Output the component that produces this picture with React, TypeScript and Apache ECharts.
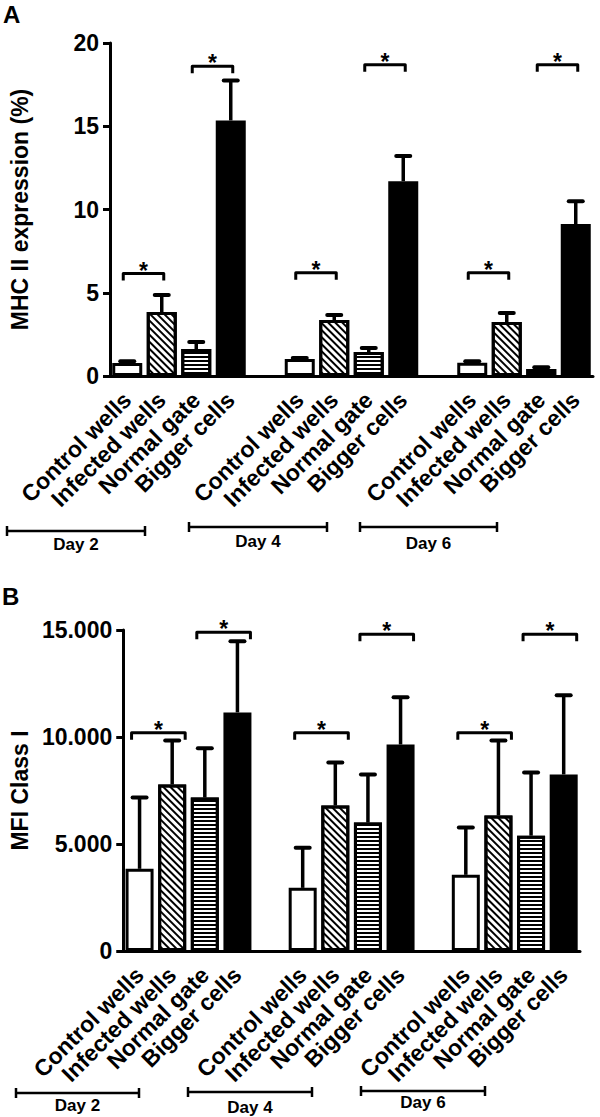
import React, { useEffect, useRef } from 'react';
import * as echarts from 'echarts';

const days = ['Day 2', 'Day 4', 'Day 6'];
const groups = ['Control wells', 'Infected wells', 'Normal gate', 'Bigger cells'];

// Panel A: MHC II expression (%)
const mhcControl = [0.78, 1.02, 0.8];
const mhcInfected = [3.84, 3.36, 3.24];
const mhcNormal = [1.62, 1.44, 0.42];
const mhcBigger = [15.35, 11.7, 9.13];
const mhcControlErr = [0.1, 0.06, 0.08];
const mhcInfectedErr = [1.02, 0.3, 0.54];
const mhcNormalErr = [0.42, 0.24, 0.1];
const mhcBiggerErr = [2.4, 1.52, 1.37];
const mhcBracketLow = [6.15, 6.2, 6.2];
const mhcBracketHigh = [18.6, 18.7, 18.7];

// Panel B: MFI Class I
const mfiControl = [3840, 2950, 3560];
const mfiInfected = [7780, 6800, 6330];
const mfiNormal = [7170, 6000, 5390];
const mfiBigger = [11150, 9650, 8250];
const mfiControlErr = [3330, 1880, 2210];
const mfiInfectedErr = [2060, 2010, 3510];
const mfiNormalErr = [2300, 2250, 2950];
const mfiBiggerErr = [3330, 2210, 3700];
const mfiBracketLow = [10200, 10200, 10200];
const mfiBracketHigh = [14900, 14800, 14800];

const FONT = "'Liberation Sans', Arial, Helvetica, sans-serif";
const LABEL_SIZE = 23;

// slot layout: 4 bars per day, one empty slot between days
const slotLabels: string[] = [];
days.forEach((_, d) => {
  groups.forEach((g) => slotLabels.push(g));
  if (d < days.length - 1) slotLabels.push('');
});
const slotIds = slotLabels.map((_, i) => 's' + i);
const slotOf = (d: number, g: number) => d * 5 + g;

const hatchDecal = {
  symbol: 'rect',
  symbolSize: 1,
  color: '#000',
  dashArrayX: [1, 0],
  dashArrayY: [1.3, 2.2],
  rotation: Math.PI / 4,
};
const hlineDecal = {
  symbol: 'rect',
  symbolSize: 1,
  color: '#000',
  dashArrayX: [1, 0],
  dashArrayY: [1.2, 2],
  rotation: 0,
};
const groupStyles = [
  { color: '#ffffff', decal: undefined as any },
  { color: '#ffffff', decal: hatchDecal },
  { color: '#ffffff', decal: hlineDecal },
  { color: '#000000', decal: undefined as any },
];

function buildPanel(
  p: number,
  means: number[][],
  errs: number[][],
  low: number[],
  high: number[],
  barWidth: number,
  offL: number,
  offR: number
) {
  const series: any[] = [];
  means.forEach((vals, g) => {
    const data = slotLabels.map(() => '-' as any);
    vals.forEach((v, d) => {
      data[slotOf(d, g)] = v;
    });
    series.push({
      type: 'bar',
      xAxisIndex: p,
      yAxisIndex: p,
      barWidth,
      barGap: '-100%',
      data,
      z: 2,
      itemStyle: {
        color: groupStyles[g].color,
        borderColor: '#000',
        borderWidth: 3,
        decal: groupStyles[g].decal,
      },
    });
  });
  const errData: number[][] = [];
  means.forEach((vals, g) => {
    vals.forEach((v, d) => errData.push([slotOf(d, g), v, errs[g][d]]));
  });
  series.push({
    type: 'custom',
    xAxisIndex: p,
    yAxisIndex: p,
    z: 3,
    encode: { x: 0, y: 1 },
    data: errData,
    renderItem: (params: any, api: any) => {
      const xi = api.value(0);
      const m = api.value(1);
      const e = api.value(2);
      const base = api.coord([xi, m]);
      const top = api.coord([xi, m + e]);
      return {
        type: 'group',
        children: [
          {
            type: 'line',
            shape: { x1: base[0], y1: base[1], x2: top[0], y2: top[1] },
            style: { stroke: '#000', lineWidth: 3.5 },
          },
          {
            type: 'line',
            shape: { x1: top[0] - 7, y1: top[1], x2: top[0] + 7, y2: top[1] },
            style: { stroke: '#000', lineWidth: 4, lineCap: 'round' },
          },
        ],
      };
    },
  });
  const brData: number[][] = [];
  days.forEach((_, d) => {
    brData.push([slotOf(d, 0), slotOf(d, 1), low[d]]);
    brData.push([slotOf(d, 2), slotOf(d, 3), high[d]]);
  });
  series.push({
    type: 'custom',
    xAxisIndex: p,
    yAxisIndex: p,
    z: 4,
    encode: { x: [0, 1], y: 2 },
    data: brData,
    renderItem: (params: any, api: any) => {
      const a = api.coord([api.value(0), api.value(2)]);
      const b = api.coord([api.value(1), api.value(2)]);
      const x1 = a[0] + offL;
      const x2 = b[0] + offR;
      const y = a[1];
      return {
        type: 'group',
        children: [
          {
            type: 'polyline',
            shape: { points: [[x1, y + 7], [x1, y], [x2, y], [x2, y + 7]] },
            style: { stroke: '#000', lineWidth: 3, fill: 'none', lineJoin: 'round' },
          },
          {
            type: 'text',
            style: {
              text: '*',
              x: (x1 + x2) / 2,
              y: y - 3,
              align: 'center',
              verticalAlign: 'middle',
              fontSize: 23,
              fontWeight: 'bold',
              fontFamily: FONT,
              fill: '#000',
            },
          },
        ],
      };
    },
  });
  return series;
}

const axisCommonX = (p: number) => ({
  type: 'category',
  gridIndex: p,
  data: slotIds,
  boundaryGap: true,
  axisLine: { lineStyle: { color: '#000', width: 3 } },
  axisTick: {
    alignWithLabel: true,
    length: 6,
    lineStyle: { color: '#000', width: 3 },
    interval: (idx: number) => slotLabels[idx] !== '',
  },
  axisLabel: {
    interval: 0,
    rotate: 45,
    margin: 20,
    color: '#000',
    fontSize: LABEL_SIZE,
    fontWeight: 'bold',
    fontFamily: FONT,
    formatter: (_v: string, idx: number) => slotLabels[idx],
  },
  splitLine: { show: false },
});

const axisCommonY = (p: number, max: number, interval: number, name: string, nameGap: number, fmt: (v: number) => string) => ({
  type: 'value',
  gridIndex: p,
  min: 0,
  max,
  interval,
  name,
  nameLocation: 'middle',
  nameGap,
  nameTextStyle: { color: '#000', fontSize: LABEL_SIZE, fontWeight: 'bold', fontFamily: FONT },
  axisLine: { show: true, lineStyle: { color: '#000', width: 3 } },
  axisTick: { show: true, length: 7, lineStyle: { color: '#000', width: 3 } },
  axisLabel: { color: '#000', fontSize: LABEL_SIZE, fontWeight: 'bold', fontFamily: FONT, margin: 11, formatter: fmt },
  splitLine: { show: false },
});

const dayBracketsA = [
  [7, 145, 531, 544],
  [189, 327, 527, 541],
  [360, 497, 527, 543],
];
const dayBracketsB = [
  [16, 139, 1093, 1105],
  [188, 312, 1092, 1107],
  [361, 485, 1091, 1102],
];

function dayGraphics(list: number[][]) {
  const els: any[] = [];
  list.forEach((b, i) => {
    const [x1, x2, y, ty] = b;
    els.push({ type: 'line', shape: { x1, y1: y, x2, y2: y }, style: { stroke: '#000', lineWidth: 2.5 } });
    els.push({ type: 'line', shape: { x1, y1: y - 5, x2: x1, y2: y + 5 }, style: { stroke: '#000', lineWidth: 2.5 } });
    els.push({ type: 'line', shape: { x1: x2, y1: y - 5, x2, y2: y + 5 }, style: { stroke: '#000', lineWidth: 2.5 } });
    els.push({
      type: 'text',
      x: (x1 + x2) / 2,
      y: ty,
      style: {
        text: days[i],
        align: 'center',
        verticalAlign: 'middle',
        fontSize: 17,
        fontWeight: 'bold',
        fontFamily: FONT,
        fill: '#000',
      },
    });
  });
  return els;
}

export default function App() {
  const ref = useRef<HTMLDivElement>(null);
  useEffect(() => {
    document.body.style.margin = '0';
    if (!ref.current) return;
    const chart = echarts.init(ref.current, undefined, { renderer: 'svg' });
    const seriesA = buildPanel(
      0,
      [mhcControl, mhcInfected, mhcNormal, mhcBigger],
      [mhcControlErr, mhcInfectedErr, mhcNormalErr, mhcBiggerErr],
      mhcBracketLow,
      mhcBracketHigh,
      30,
      -4,
      2
    );
    const seriesB = buildPanel(
      1,
      [mfiControl, mfiInfected, mfiNormal, mfiBigger],
      [mfiControlErr, mfiInfectedErr, mfiNormalErr, mfiBiggerErr],
      mfiBracketLow,
      mfiBracketHigh,
      28,
      -8,
      13
    );
    chart.setOption({
      animation: false,
      backgroundColor: '#fff',
      grid: [
        { left: 99, width: 494, top: 43, height: 333 },
        { left: 106, width: 474, top: 630, height: 321 },
      ],
      xAxis: [axisCommonX(0), axisCommonX(1)],
      yAxis: [
        axisCommonY(0, 20, 5, 'MHC II expression (%)', 79, (v) => String(v)),
        axisCommonY(1, 15000, 5000, 'MFI Class I', 90, (v) =>
          v === 0 ? '0' : String(v).replace(/\B(?=(\d{3})+(?!\d))/g, '.')
        ),
      ],
      series: [...seriesA, ...seriesB],
      graphic: [
        {
          type: 'text',
          left: 3,
          top: 2,
          style: { text: 'A', fontSize: 24, fontWeight: 'bold', fontFamily: FONT, fill: '#000' },
        },
        {
          type: 'text',
          left: 2,
          top: 584,
          style: { text: 'B', fontSize: 24, fontWeight: 'bold', fontFamily: FONT, fill: '#000' },
        },
        ...dayGraphics(dayBracketsA),
        ...dayGraphics(dayBracketsB),
      ],
    });
    return () => chart.dispose();
  }, []);
  return (
    <div
      ref={ref}
      style={{ position: 'absolute', left: 0, top: 0, width: 600, height: 1117, background: '#fff' }}
    />
  );
}
